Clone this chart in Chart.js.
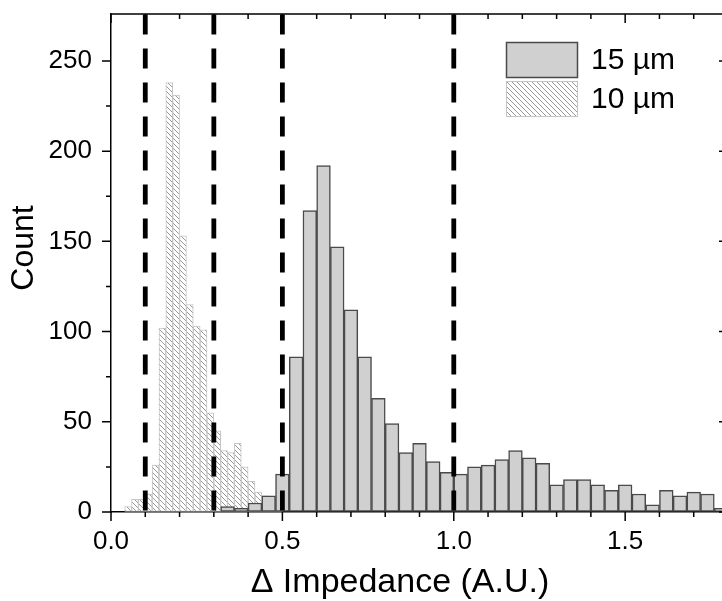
<!DOCTYPE html>
<html><head><meta charset="utf-8">
<style>
html,body{margin:0;padding:0;overflow:hidden;background:#fff;}
#wrap{position:relative;width:740px;height:601px;}
</style>
<script src="https://cdn.jsdelivr.net/npm/chart.js@4.4.0/dist/chart.umd.min.js"></script>
</head><body>
<div id="wrap"><canvas id="c"></canvas></div>
<script>
// ---- data ----
const seriesNames = ['15 µm', '10 µm'];
const centers15 = [0.34,0.38,0.42,0.46,0.50,0.54,0.58,0.62,0.66,0.70,0.74,0.78,0.82,0.86,0.90,0.94,0.98,1.02,1.06,1.10,1.14,1.18,1.22,1.26,1.30,1.34,1.38,1.42,1.46,1.50,1.54,1.58,1.62,1.66,1.70,1.74,1.78];
const counts15  = [3,2,5,9,21,86,167,192,147,112,86,63,49,33,38,28,22,21,25,26,29,34,30,27,15,18,18,15,12,15,10,4,12,9,11,10,2];
const centers10 = [0.05,0.07,0.09,0.11,0.13,0.15,0.17,0.19,0.21,0.23,0.25,0.27,0.29,0.31,0.33,0.35,0.37,0.39,0.41,0.43,0.45,0.47,0.49];
const counts10  = [3,7,7,10,26,102,238,231,153,115,103,101,55,45,34,33,38,25,17,11,9,8,3];
const thresholds = [0.1, 0.3, 0.5, 1.0];
const xTickLabels = ['0.0','0.5','1.0','1.5'];
const yTickLabels = ['0','50','100','150','200','250'];
const xTitle = 'Δ Impedance (A.U.)';
const yTitle = 'Count';

const FONT = '"Liberation Sans", Arial, Helvetica, sans-serif';
const canvas = document.getElementById('c');
const cctx = canvas.getContext('2d');

function makeHatch(){
  const s = 5, t = document.createElement('canvas');
  t.width = s; t.height = s;
  const g = t.getContext('2d');
  g.fillStyle = '#ffffff'; g.fillRect(0,0,s,s);
  g.strokeStyle = '#858585'; g.lineWidth = 0.85;
  g.beginPath();
  g.moveTo(-1,-1); g.lineTo(s+1,s+1);
  g.moveTo(-1,s-1); g.lineTo(1,s+1);
  g.moveTo(s-1,-1); g.lineTo(s+1,1);
  g.stroke();
  return cctx.createPattern(t,'repeat');
}
const hatch = makeHatch();

const isMult = (v, m) => Math.abs(v/m - Math.round(v/m)) < 1e-6;

const decor = {
  id: 'decor',
  afterDatasetsDraw(chart){
    const {ctx, chartArea:a, scales:{x}} = chart;
    ctx.save();
    ctx.strokeStyle = '#000'; ctx.lineWidth = 4.8; ctx.lineCap = 'butt';
    ctx.setLineDash([20,14]);
    thresholds.forEach(v => {
      const px = x.getPixelForValue(v);
      ctx.beginPath(); ctx.moveTo(px, a.top + 0.6); ctx.lineTo(px, a.bottom); ctx.stroke();
    });
    ctx.restore();
  },
  afterDraw(chart){
    const {ctx, chartArea:a, scales:{x, y}} = chart;
    ctx.save();
    ctx.strokeStyle = '#000'; ctx.lineWidth = 1.5;
    // top and right frame
    ctx.beginPath();
    ctx.moveTo(a.left, a.top); ctx.lineTo(a.right, a.top); ctx.lineTo(a.right, a.bottom);
    ctx.stroke();
    // ticks
    x.ticks.forEach(t => {
      if (!isMult(t.value, 0.1)) return;
      const px = x.getPixelForValue(t.value);
      const len = isMult(t.value, 0.5) ? 9 : 5;
      ctx.beginPath();
      ctx.moveTo(px, a.bottom); ctx.lineTo(px, a.bottom + len);
      ctx.moveTo(px, a.top); ctx.lineTo(px, a.top + len);
      ctx.stroke();
    });
    y.ticks.forEach(t => {
      if (!isMult(t.value, 25)) return;
      const py = y.getPixelForValue(t.value);
      const len = isMult(t.value, 50) ? 9 : 5;
      ctx.beginPath();
      ctx.moveTo(a.left - len, py); ctx.lineTo(a.left, py);
      ctx.moveTo(a.right - len, py); ctx.lineTo(a.right, py);
      ctx.stroke();
    });
    // axis titles
    ctx.fillStyle = '#000';
    ctx.font = '34px ' + FONT;
    ctx.textAlign = 'center'; ctx.textBaseline = 'alphabetic';
    ctx.fillText(xTitle, 400, 592);
    ctx.save();
    ctx.translate(24, 248); ctx.rotate(-Math.PI/2);
    ctx.font = '32px ' + FONT; ctx.textBaseline = 'middle';
    ctx.fillText(yTitle, 0, 0);
    ctx.restore();
    // legend
    const ds = chart.data.datasets;
    const lx = 506, bw = 72, bh = 36, rows = [42, 81];
    ds.forEach((d, i) => {
      const top = rows[i];
      ctx.fillStyle = d.backgroundColor;
      ctx.fillRect(lx, top, bw, bh);
      ctx.strokeStyle = d.borderColor; ctx.lineWidth = i === 0 ? 1.5 : 1;
      ctx.strokeRect(lx + 0.5, top + 0.5, bw - 1, bh - 1);
      ctx.fillStyle = '#000';
      ctx.font = '30px ' + FONT; ctx.textAlign = 'left'; ctx.textBaseline = 'middle';
      ctx.fillText(d.label, 591, top + bh/2 + 1);
    });
    ctx.restore();
  }
};

const tickFont = {family: FONT, size: 26};

new Chart(canvas, {
  type: 'bar',
  data: {
    datasets: [
      {
        label: seriesNames[0],
        data: centers15.map((v,i) => ({x: v, y: counts15[i]})),
        xAxisID: 'x',
        backgroundColor: '#d0d0d0', borderColor: '#4a4a4a', borderWidth: 1.5,
        borderSkipped: false, barPercentage: 1, categoryPercentage: 1, grouped: false
      },
      {
        label: seriesNames[1],
        data: centers10.map((v,i) => ({x: v, y: counts10[i]})),
        xAxisID: 'x2',
        backgroundColor: hatch, borderColor: '#c4c4c4', borderWidth: 1,
        borderSkipped: false, barPercentage: 1, categoryPercentage: 1, grouped: false
      }
    ]
  },
  options: {
    responsive: true, maintainAspectRatio: false, animation: false,
    devicePixelRatio: 1,
    layout: {padding: {left: 0, right: 12, top: 14, bottom: 0}},
    plugins: {legend: {display: false}, tooltip: {enabled: false}},
    scales: {
      x: {
        type: 'linear', position: 'bottom', min: 0, max: 1.8, offset: false,
        ticks: {
          stepSize: 0.1, autoSkip: false, maxRotation: 0, padding: 14,
          color: '#000', font: tickFont,
          callback: (v) => { const s = Number(v).toFixed(1); return (isMult(v,0.5) && xTickLabels.includes(s)) ? s : ''; }
        },
        grid: {display: true, drawOnChartArea: false, drawTicks: false, offset: false},
        border: {display: true, color: '#000', width: 1.5},
        afterFit(s){ s.height = 89; s.paddingLeft = 0; s.paddingRight = 0; }
      },
      x2: {type: 'linear', position: 'bottom', min: 0, max: 1.8, offset: false, display: false},
      y: {
        type: 'linear', min: 0, max: 276,
        ticks: {
          stepSize: 25, autoSkip: false, padding: 19, color: '#000', font: tickFont,
          callback: (v) => { const s = String(Math.round(v)); return (isMult(v,50) && yTickLabels.includes(s)) ? s : ''; }
        },
        grid: {display: true, drawOnChartArea: false, drawTicks: false},
        border: {display: true, color: '#000', width: 1.5},
        afterFit(s){ s.width = 111; s.paddingTop = 0; s.paddingBottom = 0; }
      }
    }
  },
  plugins: [decor]
});
</script>
</body></html>
